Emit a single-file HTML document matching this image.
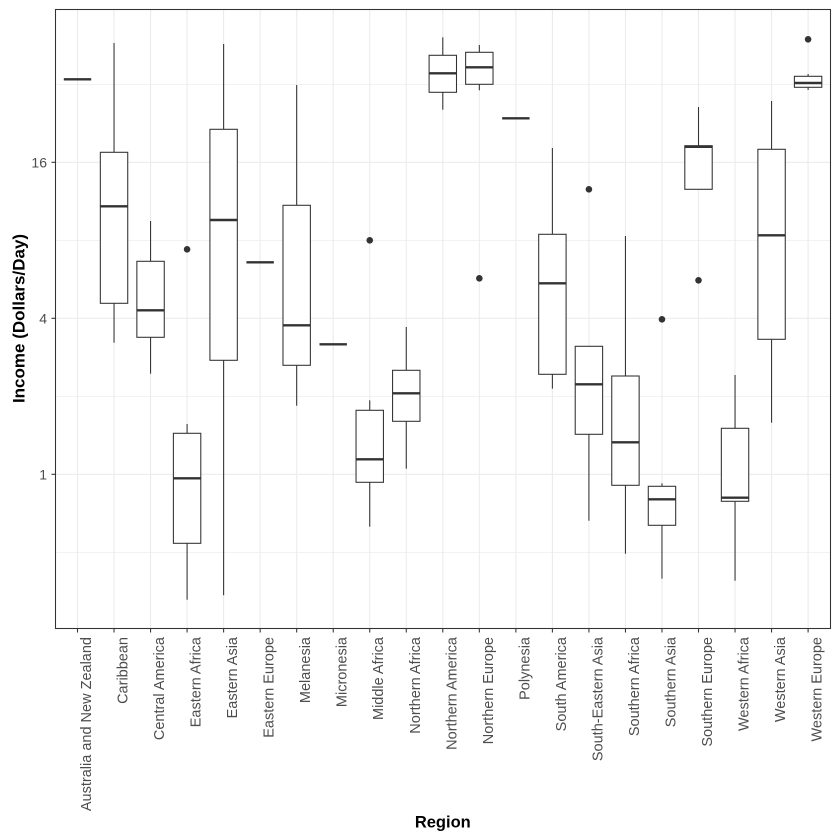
<!DOCTYPE html>
<html>
<head>
<meta charset="utf-8">
<style>
  html, body { margin: 0; padding: 0; background: #ffffff; }
  svg { display: block; }
  text { font-family: "Liberation Sans", Arial, sans-serif; }
</style>
</head>
<body>
<svg width="840" height="840" viewBox="0 0 840 840" xmlns="http://www.w3.org/2000/svg">
  <rect x="0" y="0" width="840" height="840" fill="#ffffff"/>
  <!-- panel background -->
  <rect x="55.5" y="9.5" width="775" height="619" fill="#ffffff"/>

  <!-- minor horizontal gridlines -->
  <g stroke="#EBEBEB" stroke-width="0.55">
    <line x1="55.5" x2="830.5" y1="84.3" y2="84.3"/>
    <line x1="55.5" x2="830.5" y1="240.3" y2="240.3"/>
    <line x1="55.5" x2="830.5" y1="396.3" y2="396.3"/>
    <line x1="55.5" x2="830.5" y1="552.3" y2="552.3"/>
  </g>
  <!-- major gridlines -->
  <g stroke="#EBEBEB" stroke-width="1.07">
    <line x1="55.5" x2="830.5" y1="162.3" y2="162.3"/>
    <line x1="55.5" x2="830.5" y1="318.3" y2="318.3"/>
    <line x1="55.5" x2="830.5" y1="474.3" y2="474.3"/>
    <line x1="77.5" x2="77.5" y1="9.5" y2="628.5"/>
    <line x1="114.03" x2="114.03" y1="9.5" y2="628.5"/>
    <line x1="150.56" x2="150.56" y1="9.5" y2="628.5"/>
    <line x1="187.09" x2="187.09" y1="9.5" y2="628.5"/>
    <line x1="223.62" x2="223.62" y1="9.5" y2="628.5"/>
    <line x1="260.15" x2="260.15" y1="9.5" y2="628.5"/>
    <line x1="296.68" x2="296.68" y1="9.5" y2="628.5"/>
    <line x1="333.21" x2="333.21" y1="9.5" y2="628.5"/>
    <line x1="369.74" x2="369.74" y1="9.5" y2="628.5"/>
    <line x1="406.27" x2="406.27" y1="9.5" y2="628.5"/>
    <line x1="442.8" x2="442.8" y1="9.5" y2="628.5"/>
    <line x1="479.33" x2="479.33" y1="9.5" y2="628.5"/>
    <line x1="515.86" x2="515.86" y1="9.5" y2="628.5"/>
    <line x1="552.39" x2="552.39" y1="9.5" y2="628.5"/>
    <line x1="588.92" x2="588.92" y1="9.5" y2="628.5"/>
    <line x1="625.45" x2="625.45" y1="9.5" y2="628.5"/>
    <line x1="661.98" x2="661.98" y1="9.5" y2="628.5"/>
    <line x1="698.51" x2="698.51" y1="9.5" y2="628.5"/>
    <line x1="735.04" x2="735.04" y1="9.5" y2="628.5"/>
    <line x1="771.57" x2="771.57" y1="9.5" y2="628.5"/>
    <line x1="808.1" x2="808.1" y1="9.5" y2="628.5"/>
  </g>

  <!-- whiskers -->
  <g stroke="#333333" stroke-width="1.07">
    <!-- Caribbean -->
    <line x1="114.03" x2="114.03" y1="43" y2="152.3"/>
    <line x1="114.03" x2="114.03" y1="303.3" y2="342.7"/>
    <!-- Central America -->
    <line x1="150.56" x2="150.56" y1="221" y2="261.3"/>
    <line x1="150.56" x2="150.56" y1="337.3" y2="373.7"/>
    <!-- Eastern Africa -->
    <line x1="187.09" x2="187.09" y1="424" y2="433.3"/>
    <line x1="187.09" x2="187.09" y1="543.3" y2="599.7"/>
    <!-- Eastern Asia -->
    <line x1="223.62" x2="223.62" y1="44" y2="129.3"/>
    <line x1="223.62" x2="223.62" y1="360.3" y2="595.3"/>
    <!-- Melanesia -->
    <line x1="296.68" x2="296.68" y1="85" y2="205.3"/>
    <line x1="296.68" x2="296.68" y1="365.3" y2="405.7"/>
    <!-- Middle Africa -->
    <line x1="369.74" x2="369.74" y1="400.3" y2="410.3"/>
    <line x1="369.74" x2="369.74" y1="482.3" y2="526.7"/>
    <!-- Northern Africa -->
    <line x1="406.27" x2="406.27" y1="327" y2="370.3"/>
    <line x1="406.27" x2="406.27" y1="421.3" y2="468.7"/>
    <!-- Northern America -->
    <line x1="442.8" x2="442.8" y1="37.3" y2="55.3"/>
    <line x1="442.8" x2="442.8" y1="92.3" y2="109.7"/>
    <!-- Northern Europe -->
    <line x1="479.33" x2="479.33" y1="45" y2="52.3"/>
    <line x1="479.33" x2="479.33" y1="84.3" y2="90.3"/>
    <!-- South America -->
    <line x1="552.39" x2="552.39" y1="148" y2="234.3"/>
    <line x1="552.39" x2="552.39" y1="374.3" y2="388.7"/>
    <!-- South-Eastern Asia -->
    <line x1="588.92" x2="588.92" y1="434.3" y2="520.7"/>
    <!-- Southern Africa -->
    <line x1="625.45" x2="625.45" y1="236" y2="376"/>
    <line x1="625.45" x2="625.45" y1="485.3" y2="553.7"/>
    <!-- Southern Asia -->
    <line x1="661.98" x2="661.98" y1="483.3" y2="486.3"/>
    <line x1="661.98" x2="661.98" y1="525.3" y2="578.7"/>
    <!-- Southern Europe -->
    <line x1="698.51" x2="698.51" y1="107" y2="145.7"/>
    <!-- Western Africa -->
    <line x1="735.04" x2="735.04" y1="375" y2="428.3"/>
    <line x1="735.04" x2="735.04" y1="501.3" y2="580.7"/>
    <!-- Western Asia -->
    <line x1="771.57" x2="771.57" y1="101" y2="149.3"/>
    <line x1="771.57" x2="771.57" y1="339.3" y2="422.7"/>
    <!-- Western Europe -->
    <line x1="808.1" x2="808.1" y1="74" y2="76.3"/>
    <line x1="808.1" x2="808.1" y1="87.3" y2="90"/>
  </g>

  <!-- boxes -->
  <g stroke="#333333" stroke-width="1.07" fill="#ffffff">
    <rect x="100.33" y="152.3" width="27.4" height="151"/>
    <rect x="136.86" y="261.3" width="27.4" height="76"/>
    <rect x="173.39" y="433.3" width="27.4" height="110"/>
    <rect x="209.92" y="129.3" width="27.4" height="231"/>
    <rect x="282.98" y="205.3" width="27.4" height="160"/>
    <rect x="356.04" y="410.3" width="27.4" height="72"/>
    <rect x="392.57" y="370.3" width="27.4" height="51"/>
    <rect x="429.1" y="55.3" width="27.4" height="37"/>
    <rect x="465.63" y="52.3" width="27.4" height="32"/>
    <rect x="538.69" y="234.3" width="27.4" height="140"/>
    <rect x="575.22" y="346.3" width="27.4" height="88"/>
    <rect x="611.75" y="376" width="27.4" height="109.3"/>
    <rect x="648.28" y="486.3" width="27.4" height="39"/>
    <rect x="684.81" y="145.7" width="27.4" height="43.6"/>
    <rect x="721.34" y="428.3" width="27.4" height="73"/>
    <rect x="757.87" y="149.3" width="27.4" height="190"/>
    <rect x="794.4" y="76.3" width="27.4" height="11"/>
  </g>

  <!-- medians -->
  <g stroke="#333333" stroke-width="2.4">
    <line x1="63.8" x2="91.2" y1="79.3" y2="79.3"/>
    <line x1="100.33" x2="127.73" y1="206.3" y2="206.3"/>
    <line x1="136.86" x2="164.26" y1="310.3" y2="310.3"/>
    <line x1="173.39" x2="200.79" y1="478.3" y2="478.3"/>
    <line x1="209.92" x2="237.32" y1="220" y2="220"/>
    <line x1="246.45" x2="273.85" y1="262.3" y2="262.3"/>
    <line x1="282.98" x2="310.38" y1="325.3" y2="325.3"/>
    <line x1="319.51" x2="346.91" y1="344.3" y2="344.3"/>
    <line x1="356.04" x2="383.44" y1="459.3" y2="459.3"/>
    <line x1="392.57" x2="419.97" y1="393.3" y2="393.3"/>
    <line x1="429.1" x2="456.5" y1="73.3" y2="73.3"/>
    <line x1="465.63" x2="493.03" y1="67.3" y2="67.3"/>
    <line x1="502.16" x2="529.56" y1="118.3" y2="118.3"/>
    <line x1="538.69" x2="566.09" y1="283.3" y2="283.3"/>
    <line x1="575.22" x2="602.62" y1="384.3" y2="384.3"/>
    <line x1="611.75" x2="639.15" y1="442.3" y2="442.3"/>
    <line x1="648.28" x2="675.68" y1="499.3" y2="499.3"/>
    <line x1="684.81" x2="712.21" y1="146.8" y2="146.8"/>
    <line x1="721.34" x2="748.74" y1="497.7" y2="497.7"/>
    <line x1="757.87" x2="785.27" y1="235.3" y2="235.3"/>
    <line x1="794.4" x2="821.8" y1="83" y2="83"/>
  </g>

  <!-- outliers -->
  <g fill="#333333">
    <circle cx="187.09" cy="249.3" r="3.3"/>
    <circle cx="369.74" cy="240.3" r="3.3"/>
    <circle cx="479.33" cy="278.3" r="3.3"/>
    <circle cx="588.92" cy="189.3" r="3.3"/>
    <circle cx="661.98" cy="319.3" r="3.3"/>
    <circle cx="698.51" cy="280.3" r="3.3"/>
    <circle cx="808.1" cy="39.3" r="3.3"/>
  </g>

  <!-- panel border -->
  <rect x="55.5" y="9.5" width="775" height="619" fill="none" stroke="#333333" stroke-width="1.07"/>

  <!-- y ticks -->
  <g stroke="#333333" stroke-width="1.07">
    <line x1="51.5" x2="55.5" y1="162.3" y2="162.3"/>
    <line x1="51.5" x2="55.5" y1="318.3" y2="318.3"/>
    <line x1="51.5" x2="55.5" y1="474.3" y2="474.3"/>
  </g>
  <g fill="#4D4D4D" font-size="14" text-anchor="end">
    <text x="47" y="167.5">16</text>
    <text x="47" y="323.5">4</text>
    <text x="47" y="479.5">1</text>
  </g>

  <!-- x ticks -->
  <g stroke="#333333" stroke-width="1.07">
    <line x1="77.5" x2="77.5" y1="628.5" y2="632.5"/>
    <line x1="114.03" x2="114.03" y1="628.5" y2="632.5"/>
    <line x1="150.56" x2="150.56" y1="628.5" y2="632.5"/>
    <line x1="187.09" x2="187.09" y1="628.5" y2="632.5"/>
    <line x1="223.62" x2="223.62" y1="628.5" y2="632.5"/>
    <line x1="260.15" x2="260.15" y1="628.5" y2="632.5"/>
    <line x1="296.68" x2="296.68" y1="628.5" y2="632.5"/>
    <line x1="333.21" x2="333.21" y1="628.5" y2="632.5"/>
    <line x1="369.74" x2="369.74" y1="628.5" y2="632.5"/>
    <line x1="406.27" x2="406.27" y1="628.5" y2="632.5"/>
    <line x1="442.8" x2="442.8" y1="628.5" y2="632.5"/>
    <line x1="479.33" x2="479.33" y1="628.5" y2="632.5"/>
    <line x1="515.86" x2="515.86" y1="628.5" y2="632.5"/>
    <line x1="552.39" x2="552.39" y1="628.5" y2="632.5"/>
    <line x1="588.92" x2="588.92" y1="628.5" y2="632.5"/>
    <line x1="625.45" x2="625.45" y1="628.5" y2="632.5"/>
    <line x1="661.98" x2="661.98" y1="628.5" y2="632.5"/>
    <line x1="698.51" x2="698.51" y1="628.5" y2="632.5"/>
    <line x1="735.04" x2="735.04" y1="628.5" y2="632.5"/>
    <line x1="771.57" x2="771.57" y1="628.5" y2="632.5"/>
    <line x1="808.1" x2="808.1" y1="628.5" y2="632.5"/>
  </g>
  <g fill="#4D4D4D" font-size="14.5" text-anchor="end">
    <text transform="translate(91,637) rotate(-90)">Australia and New Zealand</text>
    <text transform="translate(127.5,637) rotate(-90)">Caribbean</text>
    <text transform="translate(164.1,637) rotate(-90)">Central America</text>
    <text transform="translate(200.6,637) rotate(-90)">Eastern Africa</text>
    <text transform="translate(237.1,637) rotate(-90)">Eastern Asia</text>
    <text transform="translate(273.7,637) rotate(-90)">Eastern Europe</text>
    <text transform="translate(310.2,637) rotate(-90)">Melanesia</text>
    <text transform="translate(346.7,637) rotate(-90)">Micronesia</text>
    <text transform="translate(383.2,637) rotate(-90)">Middle Africa</text>
    <text transform="translate(419.8,637) rotate(-90)">Northern Africa</text>
    <text transform="translate(456.3,637) rotate(-90)">Northern America</text>
    <text transform="translate(492.8,637) rotate(-90)">Northern Europe</text>
    <text transform="translate(529.4,637) rotate(-90)">Polynesia</text>
    <text transform="translate(565.9,637) rotate(-90)">South America</text>
    <text transform="translate(602.4,637) rotate(-90)">South-Eastern Asia</text>
    <text transform="translate(639,637) rotate(-90)">Southern Africa</text>
    <text transform="translate(675.5,637) rotate(-90)">Southern Asia</text>
    <text transform="translate(712,637) rotate(-90)">Southern Europe</text>
    <text transform="translate(748.5,637) rotate(-90)">Western Africa</text>
    <text transform="translate(785.1,637) rotate(-90)">Western Asia</text>
    <text transform="translate(821.6,637) rotate(-90)">Western Europe</text>
  </g>

  <!-- axis titles -->
  <text x="442.8" y="827.7" font-size="16.5" font-weight="bold" fill="#000000" text-anchor="middle">Region</text>
  <text transform="translate(24.5,318.5) rotate(-90)" font-size="17" font-weight="bold" fill="#000000" text-anchor="middle">Income (Dollars/Day)</text>
</svg>
</body>
</html>
